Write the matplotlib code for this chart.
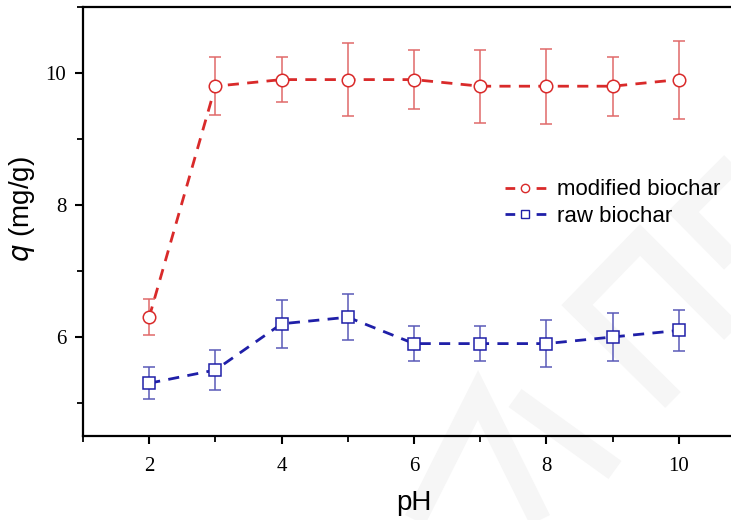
import numpy as np
import matplotlib
matplotlib.use("Agg")
import matplotlib.pyplot as plt
from matplotlib.lines import Line2D
from matplotlib.ticker import MultipleLocator

# --- données : capacité d'adsorption q (mg/g) en fonction du pH ---
ph = [2, 3, 4, 5, 6, 7, 8, 9, 10]

q_modified = [6.3, 9.8, 9.9, 9.9, 9.9, 9.8, 9.8, 9.8, 9.9]
err_modified = [0.27, 0.44, 0.34, 0.55, 0.45, 0.55, 0.57, 0.45, 0.59]

q_raw = [5.3, 5.5, 6.2, 6.3, 5.9, 5.9, 5.9, 6.0, 6.1]
err_raw = [0.24, 0.31, 0.36, 0.35, 0.27, 0.27, 0.36, 0.36, 0.31]

labels = ["modified biochar", "raw biochar"]

RED = "#d92a2a"
RED_ERR = "#e06a6a"
BLUE = "#1f1fa8"
BLUE_ERR = "#5a5ab8"

fig = plt.figure(figsize=(7.31, 5.2), dpi=100)

# filigrane gris très clair en arrière-plan (coordonnées pixels de la figure)
W, H = 731.0, 520.0
wm_paths = [
    [(415, 520), (478, 395), (540, 520)],
    [(515, 398), (615, 470)],
    [(673, 400), (577, 305), (640, 240), (740, 340)],
    [(740, 155), (683, 212), (740, 270)],
]
for path in wm_paths:
    xs = [p[0] / W for p in path]
    ys = [1 - p[1] / H for p in path]
    fig.add_artist(Line2D(xs, ys, color="#f6f6f6", lw=16,
                          solid_joinstyle="miter", solid_capstyle="butt",
                          zorder=0))

ax = fig.add_axes([83 / W, 84 / H, 662 / W, 429 / H])
ax.set_facecolor("none")

ax.errorbar(ph, q_modified, yerr=err_modified, color=RED, ecolor=RED_ERR,
            elinewidth=1.1, capsize=4, capthick=1.1, lw=2, dashes=(4, 3),
            marker="o", ms=9, mfc="white", mec=RED, mew=1.1, zorder=3)
ax.errorbar(ph, q_raw, yerr=err_raw, color=BLUE, ecolor=BLUE_ERR,
            elinewidth=1.1, capsize=4, capthick=1.1, lw=2, dashes=(4, 3),
            marker="s", ms=8, mfc="white", mec=BLUE, mew=1.1, zorder=3)

ax.set_xlim(1, 11)
ax.set_ylim(4.5, 11)
ax.xaxis.set_major_locator(MultipleLocator(2))
ax.xaxis.set_minor_locator(MultipleLocator(1))
ax.yaxis.set_major_locator(MultipleLocator(2))
ax.yaxis.set_minor_locator(MultipleLocator(1))

for side in ["left", "bottom", "top", "right"]:
    ax.spines[side].set_linewidth(1.6)
ax.spines["right"].set_visible(False)

ax.tick_params(which="major", direction="out", length=6, width=1.5, pad=9,
               labelsize=15)
ax.tick_params(axis="y", which="major", pad=6)
ax.tick_params(which="minor", direction="out", length=4, width=1.3)
ax.tick_params(top=False, right=False, which="both")
for lab in ax.get_xticklabels() + ax.get_yticklabels():
    lab.set_family("Liberation Serif")

ax.set_xlabel("pH", fontsize=20, family="Liberation Sans", labelpad=10)
ax.set_ylabel("$q$ (mg/g)", fontsize=20, family="Liberation Sans")
ax.yaxis.set_label_coords(-0.069, 0.53)

# légende : petits symboles sans barres d'erreur, "- o -"
handles = [
    Line2D([], [], color=RED, lw=2, linestyle=(0, (3.5, 7.7)), marker="o",
           ms=6, mfc="white", mec=RED, mew=1),
    Line2D([], [], color=BLUE, lw=2, linestyle=(0, (3.5, 7.7)), marker="s",
           ms=5.5, mfc="white", mec=BLUE, mew=1),
]
ax.legend(handles, labels, loc="upper left", bbox_to_anchor=(0.607, 0.645),
          frameon=False, prop={"family": "Liberation Sans", "size": 16},
          handlelength=1.85, handletextpad=0.5, labelspacing=0.25)

fig.savefig("out.png", dpi=100)
